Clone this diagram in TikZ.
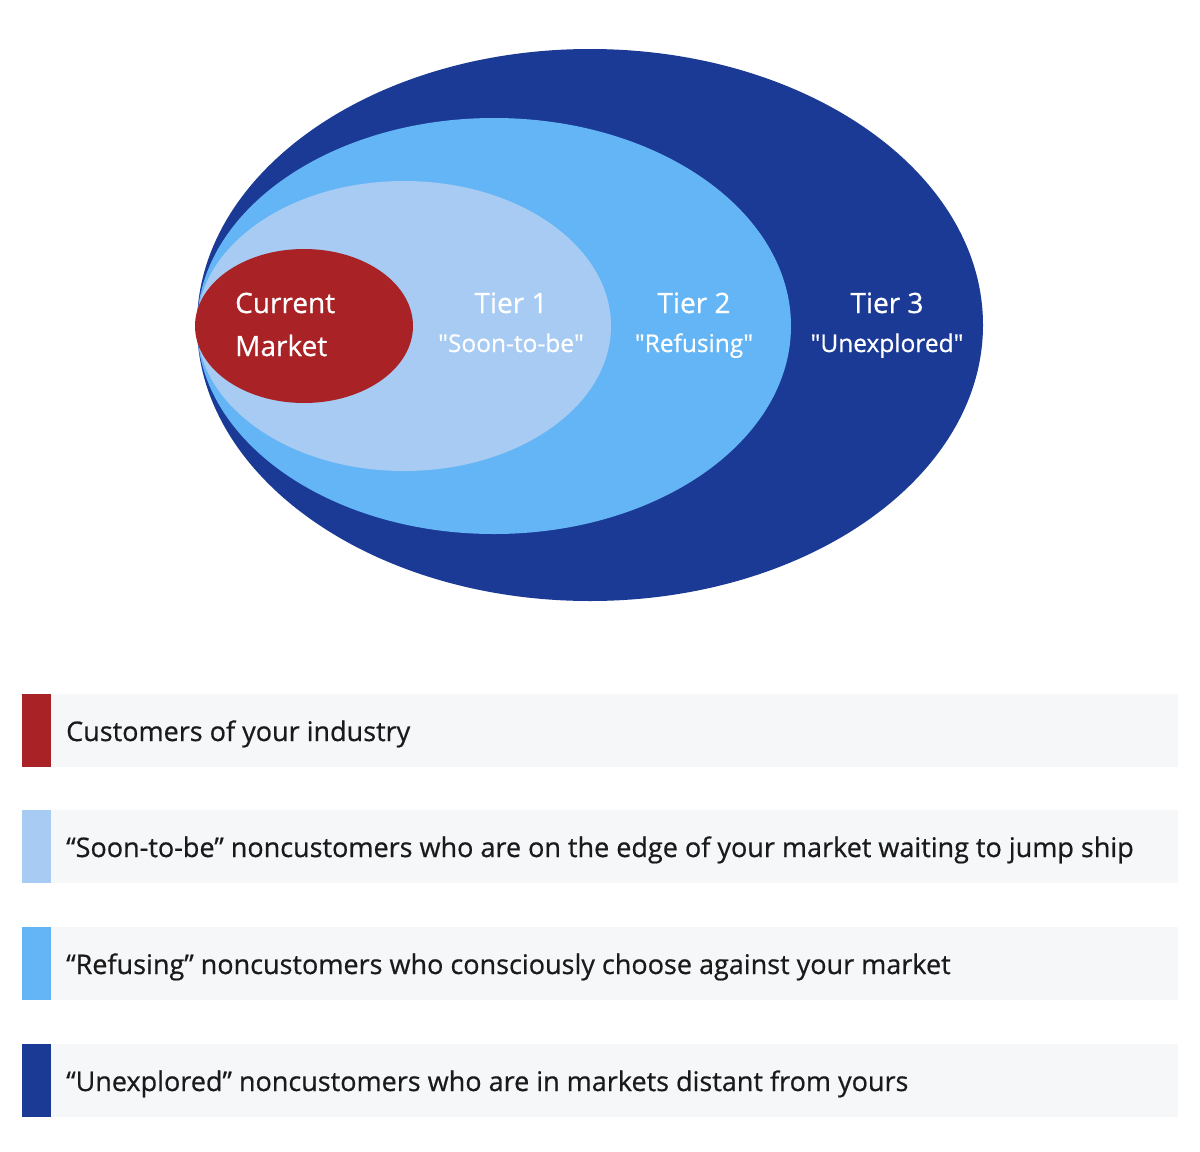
\documentclass[tikz,border=0pt]{standalone}
\usepackage{fontspec}
\setmainfont{Open Sans}
\newfontfamily\semib{Open Sans}[FakeBold=0.6]
\definecolor{tierthree}{HTML}{1A3A96}
\definecolor{tiertwo}{HTML}{64B5F6}
\definecolor{tierone}{HTML}{A7CBF2}
\definecolor{curmkt}{HTML}{A82226}
\definecolor{legbg}{HTML}{F6F7F9}
\definecolor{legtext}{HTML}{1A1A1A}
\newcommand{\sq}{\textquotedbl}
\tikzset{
  tiertitle/.style={text=white, font=\semib\fontsize{28bp}{33bp}\selectfont, inner sep=0pt, anchor=base},
  tiersub/.style={text=white, font=\semib\fontsize{24.5bp}{29bp}\selectfont, inner sep=0pt, anchor=base},
  legbar/.style={draw=none, minimum width=29bp, minimum height=73bp, inner sep=0pt, anchor=north west},
  legbox/.style={fill=legbg, draw=none, minimum width=1127bp, minimum height=73bp, inner sep=0pt, anchor=north west},
  legtxt/.style={text=legtext, font=\semib\fontsize{27bp}{32bp}\selectfont, inner sep=0pt, anchor=base west},
}
\begin{document}
\begin{tikzpicture}[x=1bp,y=-1bp]
\useasboundingbox[fill=white] (0,0) rectangle (1200,1152);
% ellipses
\fill[tierthree] (590,325) ellipse [x radius=393, y radius=276];
\fill[tiertwo] (494,326) ellipse [x radius=297, y radius=208];
\fill[tierone] (404,326) ellipse [x radius=207, y radius=145];
\fill[curmkt] (304,326) ellipse [x radius=109, y radius=77];
% labels
\node[tiertitle, anchor=base west] (cm1) at (235,313) {Current};
\node[tiertitle, anchor=base west] (cm2) at (235,356) {Market};
\node[tiertitle] (t1a) at (511,313) {Tier 1};
\node[tiersub] (t1b) at (511,352) {\sq Soon-to-be\sq};
\node[tiertitle] (t2a) at (694,313) {Tier 2};
\node[tiersub] (t2b) at (694,352) {\sq Refusing\sq};
\node[tiertitle] (t3a) at (887,313) {Tier 3};
\node[tiersub] (t3b) at (887,352) {\sq Unexplored\sq};
% legend
\node[legbox] (lb1) at (51,694) {};
\node[legbar, fill=curmkt] (lr1) at (22,694) {};
\node[legtxt] (lt1) at (66,741) {Customers of your industry};
\node[legbox] (lb2) at (51,810) {};
\node[legbar, fill=tierone] (lr2) at (22,810) {};
\node[legtxt] (lt2) at (66,857) {“Soon-to-be” noncustomers who are on the edge of your market waiting to jump ship};
\node[legbox] (lb3) at (51,927) {};
\node[legbar, fill=tiertwo] (lr3) at (22,927) {};
\node[legtxt] (lt3) at (66,974) {“Refusing” noncustomers who consciously choose against your market};
\node[legbox] (lb4) at (51,1044) {};
\node[legbar, fill=tierthree] (lr4) at (22,1044) {};
\node[legtxt] (lt4) at (66,1091) {“Unexplored” noncustomers who are in markets distant from yours};
\end{tikzpicture}
\end{document}
